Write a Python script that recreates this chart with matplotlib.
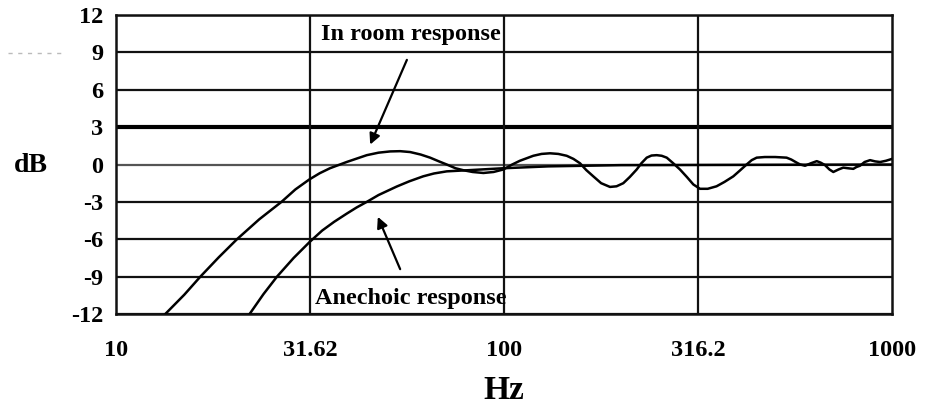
import matplotlib
matplotlib.use("Agg")
import matplotlib.pyplot as plt
from matplotlib.lines import Line2D

# In room response (Hz, dB)
room_hz = [13.4, 15.0, 16.5, 18.4, 20.5, 23.4, 26.7, 29.0, 31.5, 33.5,
           35.6, 39.3, 44.3, 47.5, 50.9, 54.0, 57.3, 61.0, 64.5, 68.0,
           71.2, 75.0, 78.6, 83.0, 88.5, 94.0, 99.6, 105.0, 109.9, 119.0,
           125.0, 131.4, 138.0, 145.1, 151.0, 157.0, 163.0, 169.9, 178.0, 187.6,
           195.0, 203.0, 211.0, 219.8, 226.0, 233.3, 240.0, 247.5, 255.0, 262.7,
           273.0, 284.2, 296.0, 307.6, 320.0, 335.0, 353.0, 370.0, 390.0, 405.0,
           422.0, 435.0, 448.0, 470.0, 500.0, 535.0, 550.0, 568.0, 580.0, 597.0,
           618.0, 640.0, 655.0, 672.0, 690.0, 706.0, 728.0, 749.0, 770.0, 795.0,
           810.0, 827.0, 850.0, 878.0, 905.0, 932.0, 965.0, 1000.0]
room_db = [-12.0, -10.45, -9.0, -7.45, -6.0, -4.4, -3.0, -2.0, -1.2, -0.7,
           -0.3, 0.2, 0.75, 0.95, 1.05, 1.07, 1.0, 0.8, 0.55, 0.25,
           0.0, -0.3, -0.46, -0.6, -0.68, -0.6, -0.4, 0.0, 0.3, 0.7,
           0.85, 0.9, 0.85, 0.7, 0.45, 0.1, -0.45, -0.95, -1.5, -1.8,
           -1.75, -1.5, -1.0, -0.4, 0.1, 0.55, 0.72, 0.75, 0.7, 0.55,
           0.1, -0.4, -1.0, -1.6, -1.95, -1.95, -1.75, -1.4, -0.95, -0.5,
           0.0, 0.35, 0.55, 0.6, 0.6, 0.55, 0.4, 0.15, 0.0, -0.1,
           0.1, 0.27, 0.15, -0.05, -0.4, -0.6, -0.4, -0.25, -0.3, -0.35,
           -0.2, -0.1, 0.2, 0.35, 0.25, 0.2, 0.3, 0.45]

# Anechoic response
anech_hz = [22.1, 24.0, 26.0, 28.7, 31.6, 34.0, 36.5, 39.3, 41.7, 44.3,
            47.5, 52.9, 57.0, 61.9, 66.0, 71.2, 81.7, 99.6, 130.0, 200.0,
            1000.0]
anech_db = [-12.0, -10.4, -9.0, -7.5, -6.2, -5.3, -4.6, -3.95, -3.45, -3.0,
            -2.45, -1.77, -1.35, -0.95, -0.72, -0.55, -0.45, -0.3, -0.15, -0.05,
            0.0]

xticks = [10, 31.62, 100, 316.2, 1000]
xtick_labels = ["10", "31.62", "100", "316.2", "1000"]
yticks = [-12, -9, -6, -3, 0, 3, 6, 9, 12]
ytick_labels = ["-12", "-9", "-6", "-3", "0", "3", "6", "9", "12"]

plt.rcParams['font.family'] = ['Liberation Serif', 'DejaVu Serif']
plt.rcParams['font.weight'] = 'bold'

fig = plt.figure(figsize=(9.25, 4.08), dpi=100)
ax = fig.add_axes([0.1254, 0.2304, 0.8389, 0.7328])

ax.set_xscale('log')
ax.set_xlim(10, 1000)
ax.set_ylim(-12, 12)

# grid
for y in yticks:
    if y == 3:
        ax.axhline(y, color='black', lw=3.0, zorder=1)
    elif y == 0:
        ax.axhline(y, color='#555555', lw=1.6, zorder=1)
    else:
        ax.axhline(y, color='#111111', lw=1.6, zorder=1)
for x in xticks[1:-1]:
    ax.axvline(x, color='#111111', lw=1.6, zorder=1)

ax.plot(anech_hz, anech_db, color='black', lw=1.8, zorder=3)
ax.plot(room_hz, room_db, color='black', lw=1.8, zorder=3)

ax.set_xticks(xticks)
ax.set_xticklabels(xtick_labels)
ax.minorticks_off()
ax.set_yticks(yticks)
ax.set_yticklabels(ytick_labels)
ax.tick_params(length=0, labelsize=17.5)
ax.tick_params(axis='x', pad=19)
ax.tick_params(axis='y', pad=9)
for lab in ax.get_xticklabels() + ax.get_yticklabels():
    lab.set_fontweight('bold')

for s in ax.spines.values():
    s.set_linewidth(1.8)
    s.set_color('#111111')

fig.text(0.545, 0.044, "Hz", ha='center', va='center', fontsize=24, fontweight='bold')
fig.text(0.033, 0.594, "dB", ha='center', va='center', fontsize=20, fontweight='bold')

# labels and arrows
ax.text(33.8, 10.4, "In room response", fontsize=17.5, fontweight='bold',
        ha='left', va='center')
ax.annotate("", xy=(45.2, 1.6), xytext=(56.2, 8.4),
            arrowprops=dict(arrowstyle='-|>', color='black', lw=1.6,
                            mutation_scale=16, shrinkA=0, shrinkB=0))
ax.text(32.6, -10.75, "Anechoic response", fontsize=17.5, fontweight='bold',
        ha='left', va='center')
ax.annotate("", xy=(47.3, -4.2), xytext=(54.0, -8.4),
            arrowprops=dict(arrowstyle='-|>', color='black', lw=1.6,
                            mutation_scale=16, shrinkA=0, shrinkB=0))

# faint dashes at the top left
fig.add_artist(Line2D([8 / 925, 65 / 925], [1 - 53 / 408, 1 - 53 / 408],
                      color='#bbbbbb', lw=1.0, ls=(0, (3, 4))))

fig.savefig("out.png", dpi=100)
